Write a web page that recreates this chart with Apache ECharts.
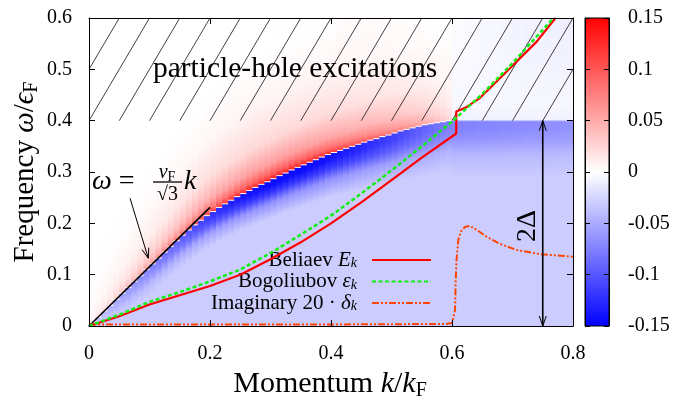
<!DOCTYPE html>
<html><head><meta charset="utf-8">
<script src="https://cdn.jsdelivr.net/npm/echarts@6/dist/echarts.min.js"></script>
<style>html,body{margin:0;padding:0;background:#fff}#c{width:680px;height:401px}</style>
</head><body><div id="c"></div>
<script>
// ---------- data ----------
const xTicks = [0, 0.2, 0.4, 0.6, 0.8];
const yTicks = [0, 0.1, 0.2, 0.3, 0.4, 0.5, 0.6];
const cbTicks = [-0.15, -0.1, -0.05, 0, 0.05, 0.1, 0.15];

// Beliaev E_k
const beliaevK = [0, 0.05, 0.1, 0.15, 0.2, 0.25, 0.3, 0.35, 0.4, 0.45, 0.5, 0.55, 0.607, 0.607, 0.622, 0.646, 0.7, 0.74, 0.771];
const beliaevW = [0, 0.019, 0.042, 0.06, 0.078, 0.1, 0.13, 0.163, 0.2, 0.241, 0.284, 0.328, 0.375, 0.418, 0.425, 0.444, 0.507, 0.554, 0.6];
// Bogoliubov eps_k
const bogoK = [0, 0.05, 0.1, 0.15, 0.2, 0.25, 0.3, 0.35, 0.4, 0.45, 0.5, 0.55, 0.6, 0.65, 0.7, 0.75, 0.768];
const bogoW = [0, 0.022, 0.047, 0.066, 0.087, 0.11, 0.142, 0.178, 0.215, 0.258, 0.303, 0.35, 0.398, 0.452, 0.512, 0.577, 0.6];
// Imaginary 20*delta_k
const imagK = [0, 0.2, 0.4, 0.59, 0.6, 0.605, 0.606, 0.6075, 0.6105, 0.6145, 0.6215, 0.63, 0.641, 0.657, 0.679, 0.707, 0.745, 0.8];
const imagW = [0.003, 0.003, 0.003, 0.004, 0.006, 0.031, 0.083, 0.129, 0.168, 0.184, 0.193, 0.195, 0.187, 0.174, 0.16, 0.148, 0.14, 0.135];
// sound line omega = vF/sqrt(3) k
const soundK = [0, 0.2];
const soundW = [0, 0.231];

// hatch (particle-hole continuum), lower edge omega = 0.4
const hatchStartK = [-0.05, 0, 0.05, 0.1, 0.15, 0.2, 0.25, 0.3, 0.35, 0.4, 0.45, 0.5, 0.55, 0.6, 0.65, 0.7, 0.75];
const hatchLowW = 0.4, hatchHighW = 0.6, hatchRunK = 0.1;

// background field, one column per 0.01 in k
const columnStep = 0.01;
const ridgeOmega = [
0.006,0.017,0.029,0.040,0.052,0.064,0.075,0.087,0.098,0.110,
0.121,0.132,0.144,0.155,0.166,0.177,0.187,0.197,0.206,0.215,
0.223,0.231,0.238,0.245,0.252,0.258,0.264,0.270,0.276,0.281,
0.287,0.293,0.298,0.304,0.309,0.314,0.319,0.324,0.329,0.334,
0.338,0.342,0.346,0.350,0.354,0.358,0.362,0.365,0.369,0.372,
0.376,0.380,0.383,0.386,0.389,0.392,0.394,0.396,0.398,0.400,
0.400,0.400,0.400,0.400,0.400,0.400,0.400,0.400,0.400,0.400,
0.400,0.400,0.400,0.400,0.400,0.400,0.400,0.400,0.400,0.400];
const abovePeak = [
0.010,0.015,0.020,0.025,0.030,0.035,0.040,0.045,0.050,0.055,
0.060,0.065,0.070,0.075,0.080,0.085,0.090,0.095,0.100,0.104,
0.108,0.112,0.115,0.118,0.120,0.122,0.124,0.125,0.126,0.127,
0.128,0.128,0.128,0.128,0.127,0.126,0.124,0.122,0.120,0.118,
0.115,0.112,0.109,0.105,0.102,0.098,0.095,0.091,0.087,0.083,
0.078,0.073,0.068,0.063,0.058,0.052,0.046,0.040,0.033,0.025,
-0.008,-0.008,-0.008,-0.008,-0.008,-0.008,-0.008,-0.008,-0.008,-0.008,
-0.008,-0.008,-0.008,-0.008,-0.008,-0.008,-0.008,-0.008,-0.008,-0.008];
const belowPeak = [
-0.030,-0.035,-0.040,-0.045,-0.050,-0.054,-0.058,-0.062,-0.066,-0.070,
-0.074,-0.078,-0.082,-0.086,-0.090,-0.095,-0.100,-0.105,-0.110,-0.115,
-0.120,-0.124,-0.128,-0.132,-0.135,-0.138,-0.140,-0.142,-0.143,-0.144,
-0.145,-0.145,-0.145,-0.145,-0.145,-0.145,-0.144,-0.143,-0.142,-0.140,
-0.138,-0.136,-0.134,-0.132,-0.130,-0.127,-0.124,-0.121,-0.118,-0.115,
-0.112,-0.108,-0.104,-0.100,-0.096,-0.092,-0.088,-0.084,-0.080,-0.076,
-0.074,-0.074,-0.073,-0.073,-0.072,-0.072,-0.071,-0.071,-0.070,-0.070,
-0.069,-0.069,-0.068,-0.068,-0.067,-0.067,-0.066,-0.066,-0.065,-0.065];
const redSpread = [
0.150,0.155,0.160,0.165,0.170,0.175,0.180,0.185,0.190,0.195,
0.200,0.204,0.208,0.212,0.216,0.220,0.224,0.228,0.232,0.236,
0.240,0.243,0.246,0.249,0.252,0.255,0.258,0.260,0.260,0.260,
0.260,0.260,0.260,0.260,0.260,0.260,0.260,0.260,0.260,0.260,
0.260,0.260,0.260,0.260,0.260,0.260,0.260,0.260,0.260,0.260,
0.260,0.260,0.260,0.260,0.260,0.260,0.260,0.260,0.260,0.260,
0.050,0.050,0.050,0.050,0.050,0.050,0.050,0.050,0.050,0.050,
0.050,0.050,0.050,0.050,0.050,0.050,0.050,0.050,0.050,0.050];
const blueSpread = [
0.006,0.016,0.026,0.034,0.040,0.044,0.048,0.050,0.052,0.054,
0.055,0.056,0.057,0.058,0.059,0.060,0.061,0.062,0.063,0.064,
0.065,0.066,0.067,0.068,0.069,0.070,0.071,0.072,0.073,0.074,
0.075,0.076,0.077,0.078,0.079,0.080,0.081,0.082,0.083,0.084,
0.085,0.086,0.087,0.088,0.089,0.090,0.091,0.092,0.093,0.094,
0.095,0.096,0.097,0.098,0.099,0.100,0.100,0.100,0.100,0.100,
0.110,0.110,0.110,0.110,0.110,0.110,0.110,0.110,0.110,0.110,
0.110,0.110,0.110,0.110,0.110,0.110,0.110,0.110,0.110,0.110];
const topValue = [
0,0,0,0,0,0,0,0,0,0, 0,0,0,0,0,0,0,0,0,0,
0,0,0,0,0,0,0,0,0,0, 0.002,0.002,0.002,0.002,0.002,0.002,0.002,0.002,0.002,0.002,
0.003,0.003,0.003,0.003,0.003,0.003,0.003,0.003,0.003,0.003,
0.002,0.002,0.002,0.001,0.001,0.001,0,0,0,0,
-0.002,-0.002,-0.003,-0.003,-0.004,-0.004,-0.005,-0.005,-0.006,-0.006,
-0.007,-0.007,-0.008,-0.008,-0.008,-0.009,-0.009,-0.009,-0.010,-0.010];
const floorValue = -0.03;

// annotation arrows [k1, w1, k2, w2, bothHeads]
const arrowList = [[0.0678, 0.249, 0.098, 0.132, 0], [0.75, 0.4, 0.75, 0.0, 1]];

// ---------- helpers ----------
const serif = "'Liberation Serif','Times New Roman',serif";
function colorFor(v) {
  const t = Math.max(-1, Math.min(1, v / 0.15));
  if (t >= 0) { const c = Math.round(255 * (1 - t)); return 'rgb(255,' + c + ',' + c + ')'; }
  const c = Math.round(255 * (1 + t)); return 'rgb(' + c + ',' + c + ',255)';
}
function columnStops(i) {
  const r = ridgeOmega[i], up = abovePeak[i], dn = belowPeak[i];
  const sR = redSpread[i], sB = blueSpread[i];
  const pts = [[0, floorValue]];
  [[1, 0], [0.6, 0.3], [0.35, 0.75], [0.15, 0.97]].forEach(function (p) {
    const om = r - sB * p[0];
    if (om > 0.0005) pts.push([om, floorValue + (dn - floorValue) * p[1]]);
  });
  pts.push([Math.max(0.0003, r - 0.002), dn]);
  pts.push([r, (up > 0 && dn < 0) ? 0 : (up + dn) / 2]);
  pts.push([r + 0.002, up]);
  if (up > 0) {
    [[0.04, 0.75], [0.12, 0.45], [0.3, 0.18], [0.6, 0.05], [1, 0.0]].forEach(function (p) {
      const om = r + sR * p[0];
      if (om < 0.6) pts.push([om, up * p[1]]);
    });
  } else {
    pts.push([r + 0.03, up * 0.6]);
  }
  pts.push([0.6, topValue[i]]);
  const stops = pts.filter(function (p) { return p[0] >= 0 && p[0] <= 0.6; })
    .map(function (p) { return { offset: (0.6 - p[0]) / 0.6, color: colorFor(p[1]) }; });
  stops.sort(function (a, b) { return a.offset - b.offset; });
  return stops;
}
function zip(a, b) { return a.map(function (v, i) { return [v, b[i]]; }); }

const chart = echarts.init(document.getElementById('c'), null, { renderer: 'canvas' });

const axisCommon = {
  type: 'value', z: 10,
  axisLine: { onZero: false, lineStyle: { color: '#000', width: 1 } },
  axisTick: { inside: true, length: 6, lineStyle: { color: '#000', width: 1 } },
  splitLine: { show: false },
  axisLabel: { fontFamily: serif, fontSize: 20, color: '#000' }
};
function ax(extra) { return echarts.util.merge(echarts.util.clone(axisCommon), extra, true); }

const rich = {
  r: { fontFamily: serif, fontSize: 21, color: '#000', lineHeight: 16, verticalAlign: 'top' },
  i: { fontFamily: serif, fontSize: 21, fontStyle: 'italic', color: '#000', lineHeight: 16, verticalAlign: 'top' },
  s: { fontFamily: serif, fontSize: 14, fontStyle: 'italic', color: '#000', lineHeight: 14, padding: [7, 0, 0, 0], verticalAlign: 'bottom' },
  g: { width: 10 }
};
function bigRich(fs) {
  return {
    r: { fontFamily: serif, fontSize: fs, color: '#000' },
    i: { fontFamily: serif, fontSize: fs, fontStyle: 'italic', color: '#000' },
    s: { fontFamily: serif, fontSize: Math.round(fs * 0.68), color: '#000', padding: [Math.round(fs * 0.45), 0, 0, 0] }
  };
}

const option = {
  animation: false,
  backgroundColor: '#fff',
  grid: [
    { left: 89, top: 18, width: 484, height: 308 },
    { left: 585, top: 18, width: 24, height: 308 }
  ],
  xAxis: [
    ax({ gridIndex: 0, min: xTicks[0], max: xTicks[xTicks.length - 1], interval: xTicks[1] - xTicks[0], position: 'bottom', axisLabel: { margin: 18 } }),
    ax({ gridIndex: 0, min: xTicks[0], max: xTicks[xTicks.length - 1], interval: xTicks[1] - xTicks[0], position: 'top', axisLabel: { show: false } }),
    { gridIndex: 1, type: 'value', min: 0, max: 1, show: false }
  ],
  yAxis: [
    ax({ gridIndex: 0, min: yTicks[0], max: yTicks[yTicks.length - 1], interval: 0.1, position: 'left', axisLabel: { margin: 17 } }),
    ax({ gridIndex: 0, min: yTicks[0], max: yTicks[yTicks.length - 1], interval: 0.1, position: 'right', axisLabel: { show: false } }),
    ax({ gridIndex: 1, min: cbTicks[0], max: cbTicks[cbTicks.length - 1], interval: 0.05, position: 'left', axisTick: { length: 5 }, axisLabel: { show: false } }),
    ax({ gridIndex: 1, min: cbTicks[0], max: cbTicks[cbTicks.length - 1], interval: 0.05, position: 'right', axisTick: { length: 5 }, axisLabel: { margin: 19 } })
  ],
  legend: {
    data: ['Beliaev', 'Bogoliubov', 'Imaginary'],
    orient: 'vertical', align: 'right', right: 248, top: 249.5, padding: 0,
    itemWidth: 59, itemHeight: 14, itemGap: 0.5, selectedMode: false,
    itemStyle: { opacity: 0, borderWidth: 0 },
    textStyle: { fontFamily: serif, fontSize: 21, color: '#000', rich: rich },
    formatter: function (n) {
      if (n === 'Beliaev') return '{r|Beliaev }{i|E}{s|k}{g|}';
      if (n === 'Bogoliubov') return '{r|Bogoliubov }{i|ε}{s|k}{g|}';
      return '{r|Imaginary 20 · }{i|δ}{s|k}{g|}';
    }
  },
  graphic: [
    { type: 'text', x: 25, y: 172, rotation: Math.PI / 2, z: 20,
      style: { text: '{r|Frequency }{i|ω}{r|/}{i|ϵ}{s|F}', rich: bigRich(29), align: 'center', verticalAlign: 'middle', textAlign: 'center', textVerticalAlign: 'middle' } },
    { type: 'text', x: 330, y: 384, z: 20,
      style: { text: '{r|Momentum }{i|k}{r|/}{i|k}{s|F}', rich: bigRich(30), align: 'center', verticalAlign: 'middle', textAlign: 'center', textVerticalAlign: 'middle' } },
    { type: 'text', x: 295, y: 69, z: 20,
      style: { text: 'particle-hole excitations', fontFamily: serif, fontSize: 29.5, fill: '#000', align: 'center', verticalAlign: 'middle', textAlign: 'center', textVerticalAlign: 'middle' } },
    { type: 'text', x: 528, y: 226, rotation: Math.PI / 2, z: 20,
      style: { text: '2Δ', fontFamily: serif, fontSize: 28, fill: '#000', align: 'center', verticalAlign: 'middle', textAlign: 'center', textVerticalAlign: 'middle' } },
    { type: 'text', x: 92, y: 182, z: 20,
      style: { text: '{i|ω}{r| =}', rich: bigRich(28), align: 'left', verticalAlign: 'middle', textAlign: 'left', textVerticalAlign: 'middle' } },
    { type: 'text', x: 167, y: 173, z: 20,
      style: { text: '{i|v}{s|F}', rich: bigRich(20), align: 'center', verticalAlign: 'middle', textAlign: 'center', textVerticalAlign: 'middle' } },
    { type: 'line', z: 20, shape: { x1: 153, y1: 182, x2: 182, y2: 182 }, style: { stroke: '#000', lineWidth: 1.3 } },
    { type: 'text', x: 167.5, y: 195, z: 20,
      style: { text: '√3', fontFamily: serif, fontSize: 20, fill: '#000', align: 'center', verticalAlign: 'middle', textAlign: 'center', textVerticalAlign: 'middle' } },
    { type: 'text', x: 184, y: 182, z: 20,
      style: { text: '{i|k}', rich: bigRich(28), align: 'left', verticalAlign: 'middle', textAlign: 'left', textVerticalAlign: 'middle' } }
  ],
  series: [
    { type: 'custom', name: 'field', xAxisIndex: 0, yAxisIndex: 0, z: 1, silent: true, clip: true,
      encode: { x: 0, y: 1 },
      data: ridgeOmega.map(function (r, i) { return [i * columnStep, r, i]; }),
      renderItem: function (params, api) {
        const i = api.value(2);
        const k0 = api.value(0);
        const p0 = api.coord([k0, 0.6]);
        const p1 = api.coord([k0 + columnStep, 0]);
        return { type: 'rect', shape: { x: p0[0], y: p0[1], width: p1[0] - p0[0] + 0.7, height: p1[1] - p0[1] },
          style: { fill: new echarts.graphic.LinearGradient(0, 0, 0, 1, columnStops(i)) } };
      } },
    { type: 'custom', name: 'hatch', xAxisIndex: 0, yAxisIndex: 0, z: 3, silent: true, clip: true,
      encode: { x: 0, y: 1 },
      data: hatchStartK.map(function (k) { return [k, hatchLowW]; }),
      renderItem: function (params, api) {
        const k = api.value(0);
        const a = api.coord([k, hatchLowW]);
        const b = api.coord([k + hatchRunK, hatchHighW]);
        return { type: 'line', shape: { x1: a[0], y1: a[1], x2: b[0], y2: b[1] }, style: { stroke: '#111', lineWidth: 0.8 } };
      } },
    { type: 'custom', name: 'colorbar', xAxisIndex: 2, yAxisIndex: 2, z: 2, silent: true,
      encode: { x: 0, y: 1 },
      data: [[0, 0]],
      renderItem: function (params, api) {
        const p0 = api.coord([0, cbTicks[cbTicks.length - 1]]);
        const p1 = api.coord([1, cbTicks[0]]);
        const stops = [0.15, 0.075, 0, -0.075, -0.15].map(function (v, j) { return { offset: j / 4, color: colorFor(v) }; });
        return { type: 'rect', shape: { x: p0[0], y: p0[1], width: p1[0] - p0[0], height: p1[1] - p0[1] },
          style: { fill: new echarts.graphic.LinearGradient(0, 0, 0, 1, stops), stroke: '#000', lineWidth: 1 } };
      } },
    { type: 'line', name: 'sound', xAxisIndex: 0, yAxisIndex: 0, z: 5, symbol: 'none', silent: true,
      data: zip(soundK, soundW), lineStyle: { color: '#000', width: 1.6 } },
    { type: 'line', name: 'Imaginary', xAxisIndex: 0, yAxisIndex: 0, z: 6, symbol: 'none', silent: true,
      data: zip(imagK, imagW), itemStyle: { color: '#ff4500' },
      lineStyle: { color: '#ff4500', width: 2, type: [7, 2, 2, 2, 2, 2] } },
    { type: 'line', name: 'Beliaev', xAxisIndex: 0, yAxisIndex: 0, z: 6, symbol: 'none', silent: true,
      data: zip(beliaevK, beliaevW), itemStyle: { color: '#ff0000' },
      lineStyle: { color: '#ff0000', width: 2.2 } },
    { type: 'line', name: 'Bogoliubov', xAxisIndex: 0, yAxisIndex: 0, z: 7, symbol: 'none', silent: true,
      data: zip(bogoK, bogoW), itemStyle: { color: '#11ee11' },
      lineStyle: { color: '#11ee11', width: 2.5, type: [4, 2.5] } },
    { type: 'custom', name: 'arrows', xAxisIndex: 0, yAxisIndex: 0, z: 8, silent: true, clip: false,
      encode: { x: 0, y: 1 },
      data: arrowList,
      renderItem: function (params, api) {
        const a = api.coord([api.value(0), api.value(1)]);
        const b = api.coord([api.value(2), api.value(3)]);
        const both = api.value(4);
        const children = [{ type: 'line', shape: { x1: a[0], y1: a[1], x2: b[0], y2: b[1] }, style: { stroke: '#000', lineWidth: both ? 1.6 : 1 } }];
        function head(tip, from) {
          const dx = tip[0] - from[0], dy = tip[1] - from[1];
          const L = Math.sqrt(dx * dx + dy * dy), ux = dx / L, uy = dy / L;
          const len = 10, hw = 3.5;
          return { type: 'polyline', shape: { points: [
            [tip[0] - ux * len - uy * hw, tip[1] - uy * len + ux * hw], tip,
            [tip[0] - ux * len + uy * hw, tip[1] - uy * len - ux * hw]] },
            style: { stroke: '#000', lineWidth: 1, fill: null } };
        }
        children.push(head(b, a));
        if (both) children.push(head(a, b));
        return { type: 'group', children: children };
      } }
  ]
};
chart.setOption(option);
</script></body></html>
